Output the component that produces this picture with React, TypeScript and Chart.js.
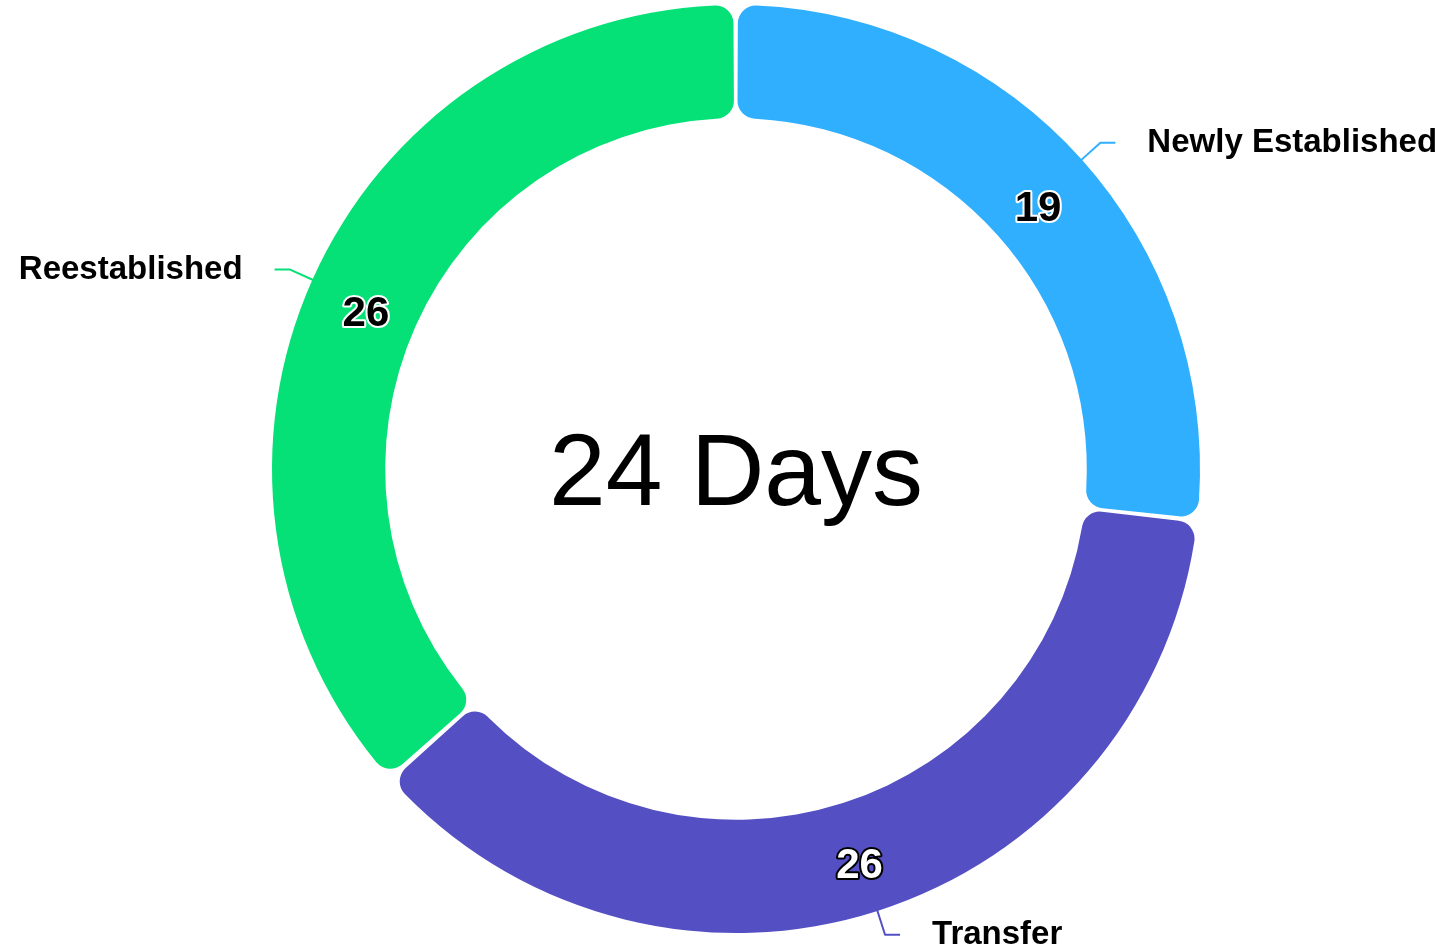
import React, { useEffect, useRef } from "react";
import { Chart, registerables } from "chart.js";

Chart.register(...registerables);

const categories = ["Newly Established", "Transfer", "Reestablished"];
const values = [19, 26, 26];
const colors = ["#30AFFF", "#5450C4", "#05E176"];
const centerText = "24 Days";

const FONT = "'Liberation Sans', Arial, Helvetica, sans-serif";

const labelPlugin = {
  id: "outerLabels",
  afterDatasetsDraw(chart: any) {
    const ctx = chart.ctx;
    const meta = chart.getDatasetMeta(0);
    ctx.save();
    meta.data.forEach((arc: any, i: number) => {
      const { x, y, startAngle, endAngle, outerRadius, innerRadius } = arc.getProps(
        ["x", "y", "startAngle", "endAngle", "outerRadius", "innerRadius"],
        true
      );
      const mid = (startAngle + endAngle) / 2;
      const cos = Math.cos(mid);
      const sin = Math.sin(mid);
      // value label
      const rMid = (outerRadius + innerRadius) / 2;
      const vx = x + cos * rMid;
      const vy = y + sin * rMid + 11;
      const dark = i === 1;
      ctx.font = `bold 42px ${FONT}`;
      ctx.textAlign = "center";
      ctx.textBaseline = "middle";
      ctx.lineJoin = "round";
      ctx.lineWidth = 4;
      ctx.strokeStyle = dark ? "#000" : "#fff";
      ctx.strokeText(String(values[i]), vx, vy);
      ctx.fillStyle = dark ? "#fff" : "#000";
      ctx.fillText(String(values[i]), vx, vy);

      // leader line
      const sx = x + cos * outerRadius;
      const sy = y + sin * outerRadius;
      const ex = x + cos * (outerRadius + 27);
      const ey = y + sin * (outerRadius + 27);
      const right = cos >= 0;
      const hx = ex + (right ? 15 : -15);
      ctx.beginPath();
      ctx.moveTo(sx, sy);
      ctx.lineTo(ex, ey);
      ctx.lineTo(hx, ey);
      ctx.strokeStyle = colors[i];
      ctx.lineWidth = 2;
      ctx.stroke();

      ctx.font = `bold 33px ${FONT}`;
      ctx.textAlign = right ? "left" : "right";
      ctx.textBaseline = "middle";
      ctx.fillStyle = "#000";
      ctx.fillText(categories[i], hx + (right ? 32 : -32), ey);
    });

    // center text
    const a = meta.data[0];
    ctx.font = `102px ${FONT}`;
    ctx.textAlign = "center";
    ctx.textBaseline = "alphabetic";
    ctx.fillStyle = "#000";
    ctx.fillText(centerText, a.x, a.y + 36);
    ctx.restore();
  },
};

export default function App() {
  const ref = useRef<HTMLCanvasElement>(null);
  useEffect(() => {
    if (!ref.current) return;
    const chart = new Chart(ref.current, {
      type: "doughnut",
      data: {
        labels: categories,
        datasets: [
          {
            data: values,
            backgroundColor: colors,
            borderWidth: 0,
            borderRadius: 18,
            spacing: 4,
          },
        ],
      },
      options: {
        animation: false,
        responsive: false,
        maintainAspectRatio: false,
        radius: 462,
        cutout: "75.5%",
        layout: { padding: { left: 273, right: 236, top: 5, bottom: 18 } },
        plugins: {
          legend: { display: false },
          tooltip: { enabled: false },
        },
      } as any,
      plugins: [labelPlugin],
    });
    return () => chart.destroy();
  }, []);
  return (
    <div style={{ position: "fixed", left: 0, top: 0, width: 1435, height: 951, background: "#fff" }}>
      <canvas ref={ref} width={1435} height={951} style={{ width: 1435, height: 951 }} />
    </div>
  );
}
